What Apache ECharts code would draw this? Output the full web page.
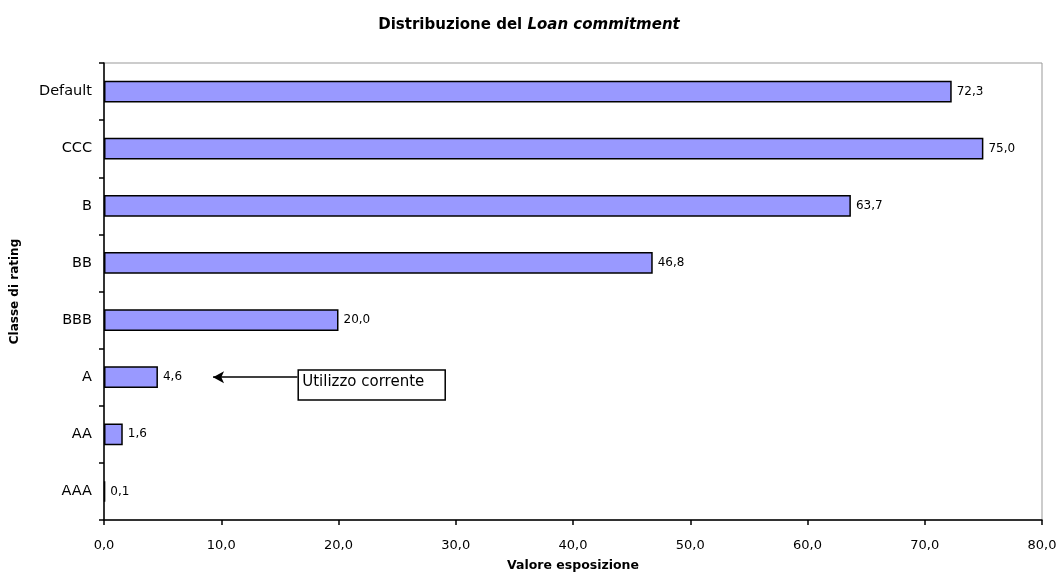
<!DOCTYPE html>
<html>
<head>
<meta charset="utf-8">
<style>
  html, body { margin: 0; padding: 0; background: #fff; }
  #chart { width: 1058px; height: 573px; }
</style>
<script src="https://cdn.jsdelivr.net/npm/echarts@6/dist/echarts.min.js"></script>
</head>
<body>
<div id="chart"></div>
<script>
// categories listed bottom to top (category axis on y starts at the bottom)
const categories = ['AAA', 'AA', 'A', 'BBB', 'BB', 'B', 'CCC', 'Default']
const values = [0.1, 1.6, 4.6, 20.0, 46.8, 63.7, 75.0, 72.3]
const xTicks = [0, 10, 20, 30, 40, 50, 60, 70, 80]

const fmt = v => v.toFixed(1).replace('.', ',')
const font = '"DejaVu Sans", Verdana, sans-serif'

const chart = echarts.init(document.getElementById('chart'))

chart.setOption({
  animation: false,
  title: {
    text: '{b|Distribuzione del }{i|Loan commitment}',
    left: 'center',
    top: 13,
    textStyle: {
      rich: {
        b: { fontFamily: font, fontWeight: 'bold', fontSize: 15, color: '#000' },
        i: { fontFamily: font, fontWeight: 'bold', fontStyle: 'italic', fontSize: 15, color: '#000' }
      }
    }
  },
  grid: {
    left: 104, right: 16, top: 63, bottom: 53,
    outerBoundsMode: 'none',
    show: true, borderColor: '#999', borderWidth: 1
  },
  xAxis: {
    type: 'value',
    min: xTicks[0],
    max: xTicks[xTicks.length - 1],
    interval: 10,
    name: 'Valore esposizione',
    nameLocation: 'middle',
    nameGap: 39,
    nameTextStyle: { fontFamily: font, fontWeight: 'bold', fontSize: 12.5, color: '#000' },
    axisLine: { show: true, lineStyle: { color: '#000', width: 1.5 } },
    axisTick: { show: true, length: 5, lineStyle: { color: '#000', width: 1.5 } },
    axisLabel: { fontFamily: font, fontSize: 13, color: '#000', margin: 19, formatter: fmt },
    splitLine: { show: false }
  },
  yAxis: {
    type: 'category',
    data: categories,
    name: 'Classe di rating',
    nameLocation: 'middle',
    nameGap: 83,
    nameRotate: 90,
    nameTextStyle: { fontFamily: font, fontWeight: 'bold', fontSize: 12, color: '#000' },
    axisLine: { show: true, lineStyle: { color: '#000', width: 1.5 } },
    axisTick: { show: true, length: 5, lineStyle: { color: '#000', width: 1.5 } },
    axisLabel: { fontFamily: font, fontSize: 14.5, color: '#000', margin: 12 }
  },
  series: [{
    type: 'bar',
    data: values,
    barWidth: '38%',
    itemStyle: { color: '#9999ff', borderColor: '#000', borderWidth: 1.5 },
    label: {
      show: true,
      position: 'right',
      distance: 5,
      fontFamily: font,
      fontSize: 12,
      color: '#000',
      formatter: p => fmt(p.value)
    },
    markLine: {
      silent: true,
      symbol: ['none', 'arrow'],
      symbolSize: [9, 11],
      lineStyle: { color: '#000', width: 1.5, type: 'solid' },
      label: { show: false },
      data: [[{ coord: [16.5, 'A'] }, { coord: [9.3, 'A'] }]]
    }
  }]
})

// annotation box attached to the arrow tail
const p0 = chart.convertToPixel({ gridIndex: 0 }, [16.5, 'A'])
chart.setOption({
  graphic: [{
    type: 'group',
    left: p0[0],
    top: p0[1] - 8,
    children: [
      { type: 'rect', shape: { x: 0, y: 0, width: 147, height: 30 }, style: { fill: '#fff', stroke: '#000', lineWidth: 1.5 } },
      { type: 'text', x: 4, y: 5, style: { text: 'Utilizzo corrente', font: '15px ' + font, fill: '#000' } }
    ]
  }]
})
</script>
</body>
</html>
